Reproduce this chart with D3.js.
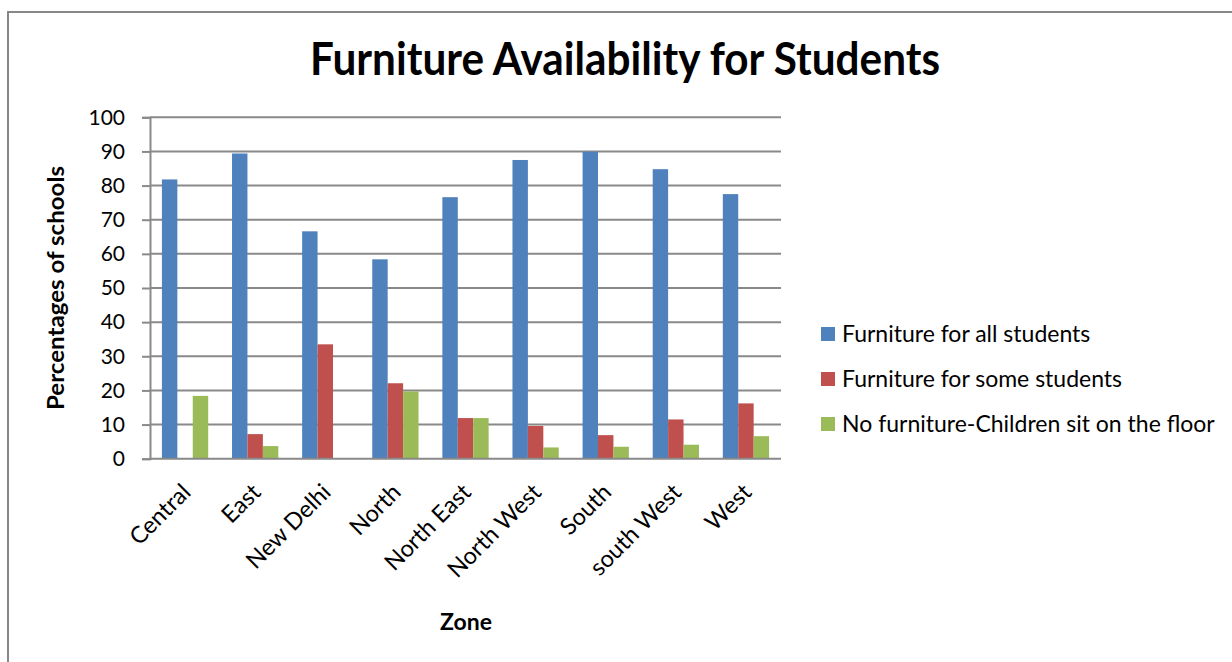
<!DOCTYPE html>
<html>
<head>
<meta charset="utf-8">
<script src="https://cdn.jsdelivr.net/npm/d3@7"></script>
<style>
  html, body { margin: 0; padding: 0; background: #fff; }
  svg { display: block; }
  text { font-family: Lato, "Open Sans", sans-serif; fill: #000; }
</style>
</head>
<body>
<svg id="chart" width="1232" height="662"></svg>
<script>
const zones = ['Central', 'East', 'New Delhi', 'North', 'North East', 'North West', 'South', 'south West', 'West'];
const seriesNames = ['Furniture for all students', 'Furniture for some students', 'No furniture-Children sit on the floor'];
const allStudents = [81.8, 89.4, 66.6, 58.4, 76.6, 87.5, 89.9, 84.8, 77.5];
const someStudents = [0, 7.2, 33.5, 22.1, 11.9, 9.6, 6.9, 11.5, 16.2];
const noFurniture = [18.4, 3.7, 0, 19.7, 11.9, 3.3, 3.5, 4.1, 6.6];
const yTicks = [0, 10, 20, 30, 40, 50, 60, 70, 80, 90, 100];
const colors = ['#4F81BD', '#C0504D', '#9BBB59'];

const series = [allStudents, someStudents, noFurniture];

const svg = d3.select('#chart');

// outer frame
svg.append('rect')
  .attr('x', 8).attr('y', 12)
  .attr('width', 1240).attr('height', 670)
  .attr('fill', 'none')
  .attr('stroke', '#878787')
  .attr('stroke-width', 2);

const plot = { left: 150, right: 781, top: 117.3, bottom: 458.7 };

const x = d3.scaleBand()
  .domain(zones)
  .range([plot.left, plot.right]);

const xInner = d3.scaleBand()
  .domain(d3.range(series.length))
  .range([x.bandwidth() * 0.17, x.bandwidth() * 0.83]);

const y = d3.scaleLinear()
  .domain([0, 100])
  .range([plot.bottom, plot.top]);

// gridlines
svg.append('g')
  .selectAll('line')
  .data(yTicks.slice(1))
  .join('line')
  .attr('x1', plot.left).attr('x2', plot.right)
  .attr('y1', (d) => y(d)).attr('y2', (d) => y(d))
  .attr('stroke', '#898989')
  .attr('stroke-width', 2);

// bars
const rows = zones.map((z, i) => ({ zone: z, values: series.map((s) => s[i]) }));

svg.append('g')
  .selectAll('g')
  .data(rows)
  .join('g')
  .attr('transform', (d) => `translate(${x(d.zone)},0)`)
  .selectAll('rect')
  .data((d) => d.values.map((v, k) => ({ v, k })))
  .join('rect')
  .attr('x', (d) => xInner(d.k))
  .attr('width', xInner.bandwidth())
  .attr('y', (d) => y(d.v))
  .attr('height', (d) => y(0) - y(d.v))
  .attr('fill', (d) => colors[d.k]);

// y axis
const yAxis = svg.append('g')
  .attr('transform', `translate(${plot.left},0)`)
  .call(d3.axisLeft(y).tickValues(yTicks).tickSize(8).tickPadding(17));
yAxis.select('.domain').attr('stroke', '#898989').attr('stroke-width', 2);
yAxis.selectAll('.tick line').attr('stroke', '#898989').attr('stroke-width', 2);
yAxis.selectAll('.tick text')
  .attr('font-family', 'Lato, sans-serif')
  .attr('font-size', 21)
  .attr('fill', '#000');

// x axis baseline
svg.append('line')
  .attr('x1', plot.left - 1).attr('x2', plot.right)
  .attr('y1', y(0)).attr('y2', y(0))
  .attr('stroke', '#898989')
  .attr('stroke-width', 2);

// category labels
svg.append('g')
  .selectAll('text')
  .data(zones)
  .join('text')
  .attr('transform', (d) => `translate(${x(d) + x.bandwidth() / 2 + 7},${plot.bottom + 35}) rotate(-45)`)
  .attr('text-anchor', 'end')
  .attr('font-size', 23.5)
  .text((d) => d);

// title
svg.append('text')
  .attr('x', 625).attr('y', 75)
  .attr('text-anchor', 'middle')
  .attr('font-family', '"Liberation Sans Narrow", "Liberation Sans", sans-serif')
  .attr('font-weight', 'bold')
  .attr('font-size', 46)
  .attr('textLength', 630)
  .attr('lengthAdjust', 'spacingAndGlyphs')
  .text('Furniture Availability for Students');

// axis titles
svg.append('text')
  .attr('transform', 'translate(64,288) rotate(-90)')
  .attr('text-anchor', 'middle')
  .attr('font-weight', 'bold')
  .attr('font-size', 22)
  .attr('textLength', 244)
  .attr('lengthAdjust', 'spacingAndGlyphs')
  .text('Percentages of schools');

svg.append('text')
  .attr('x', 466).attr('y', 630)
  .attr('text-anchor', 'middle')
  .attr('font-weight', 'bold')
  .attr('font-size', 23)
  .text('Zone');

// legend
const legend = svg.append('g')
  .selectAll('g')
  .data(seriesNames)
  .join('g')
  .attr('transform', (d, i) => `translate(821,${334 + i * 45})`);

legend.append('rect')
  .attr('x', 0).attr('y', -7)
  .attr('width', 14).attr('height', 14)
  .attr('fill', (d, i) => colors[i]);

legend.append('text')
  .attr('x', 21).attr('y', 8)
  .attr('font-size', 23)
  .text((d) => d);
</script>
</body>
</html>
